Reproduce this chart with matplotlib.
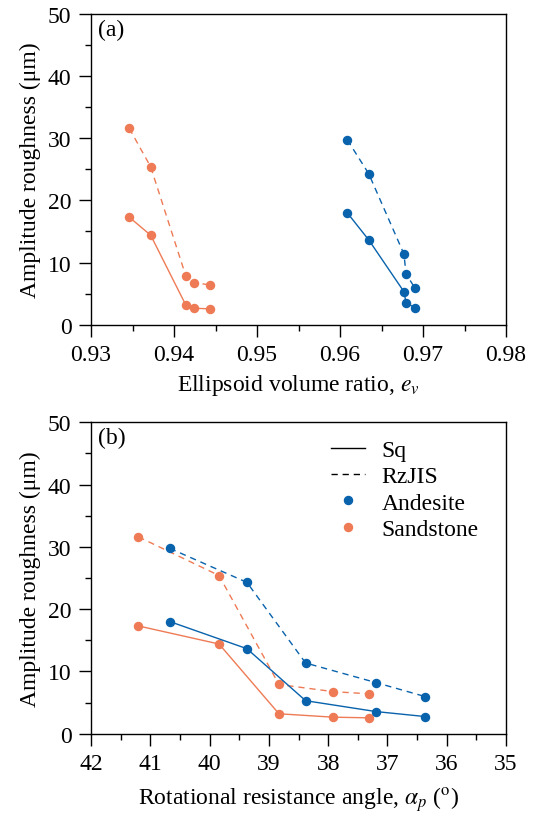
import matplotlib
matplotlib.use("Agg")
import matplotlib.pyplot as plt
from matplotlib.lines import Line2D
from matplotlib.ticker import MultipleLocator

plt.rcParams['font.family'] = ['Liberation Serif', 'DejaVu Serif']
plt.rcParams['mathtext.fontset'] = 'stix'
plt.rcParams['font.size'] = 17

# Data
sand_ev = [0.93461, 0.93719, 0.94141, 0.94245, 0.94437]
and_ev = [0.96088, 0.96346, 0.96771, 0.96795, 0.96900]
sand_alpha = [41.20, 39.84, 38.83, 37.91, 37.31]
and_alpha = [40.67, 39.37, 38.38, 37.19, 36.36]
sand_sq = [17.3, 14.4, 3.2, 2.65, 2.55]
sand_rz = [31.6, 25.4, 7.9, 6.75, 6.4]
and_sq = [18.0, 13.65, 5.3, 3.55, 2.75]
and_rz = [29.75, 24.3, 11.35, 8.2, 5.95]

BLUE = '#0862AC'
ORANGE = '#EE7B55'

fig = plt.figure(figsize=(5.37, 8.2), dpi=100)
L, R = 91/537, 506/537
axa = fig.add_axes([L, 1-325.7/820, R-L, (325.7-15)/820])
axb = fig.add_axes([L, 1-734.7/820, R-L, (734.7-423.3)/820])

ms = 5.8
lw = 1.0
dash = (0, (4.5, 3.5))
FS = 17

def draw(ax, xs, xa):
    ax.plot(xs, sand_sq, '-', color=ORANGE, lw=lw, marker='o', ms=ms)
    ax.plot(xs, sand_rz, color=ORANGE, lw=lw, ls=dash, marker='o', ms=ms)
    ax.plot(xa, and_sq, '-', color=BLUE, lw=lw, marker='o', ms=ms)
    ax.plot(xa, and_rz, color=BLUE, lw=lw, ls=dash, marker='o', ms=ms)
    ax.set_ylim(0, 50)
    ax.yaxis.set_major_locator(MultipleLocator(10))
    ax.yaxis.set_minor_locator(MultipleLocator(5))
    ax.tick_params(which='major', direction='out', length=8.5, width=1, pad=5.5, labelsize=FS)
    ax.tick_params(which='minor', direction='out', length=4.3, width=1)
    for s in ax.spines.values():
        s.set_linewidth(1.0)
    ax.set_ylabel('Amplitude roughness (μm)', fontsize=FS, labelpad=5)

draw(axa, sand_ev, and_ev)
axa.set_xlim(0.93, 0.98)
axa.xaxis.set_minor_locator(MultipleLocator(0.005))
axa.set_xticks([0.93, 0.94, 0.95, 0.96, 0.97, 0.98])
axa.set_xticklabels(['0.93', '0.94', '0.95', '0.96', '0.97', '0.98'])
axa.set_xlabel(r'Ellipsoid volume ratio, $e_v$', fontsize=FS, labelpad=5)
axa.text(0.018, 0.985, '(a)', transform=axa.transAxes, ha='left', va='top', fontsize=FS)

draw(axb, sand_alpha, and_alpha)
axb.set_xlim(42, 35)
axb.xaxis.set_major_locator(MultipleLocator(1))
axb.xaxis.set_minor_locator(MultipleLocator(0.5))
axb.set_xlabel(r'Rotational resistance angle, $\alpha_p$ ($^{\mathrm{o}}$)', fontsize=FS, labelpad=7)
axb.text(0.018, 0.985, '(b)', transform=axb.transAxes, ha='left', va='top', fontsize=FS)

handles = [
    Line2D([], [], color='black', lw=lw, ls='-'),
    Line2D([], [], color='black', lw=lw, ls=dash),
    Line2D([], [], color=BLUE, ls='none', marker='o', ms=ms),
    Line2D([], [], color=ORANGE, ls='none', marker='o', ms=ms),
]
axb.legend(handles, ['Sq', 'RzJIS', 'Andesite', 'Sandstone'], loc='upper left',
           bbox_to_anchor=(0.533, 1.005), frameon=False, fontsize=FS,
           handlelength=1.45, handletextpad=0.7, labelspacing=0.2, borderpad=0.3)

fig.savefig('out.png', dpi=100)
